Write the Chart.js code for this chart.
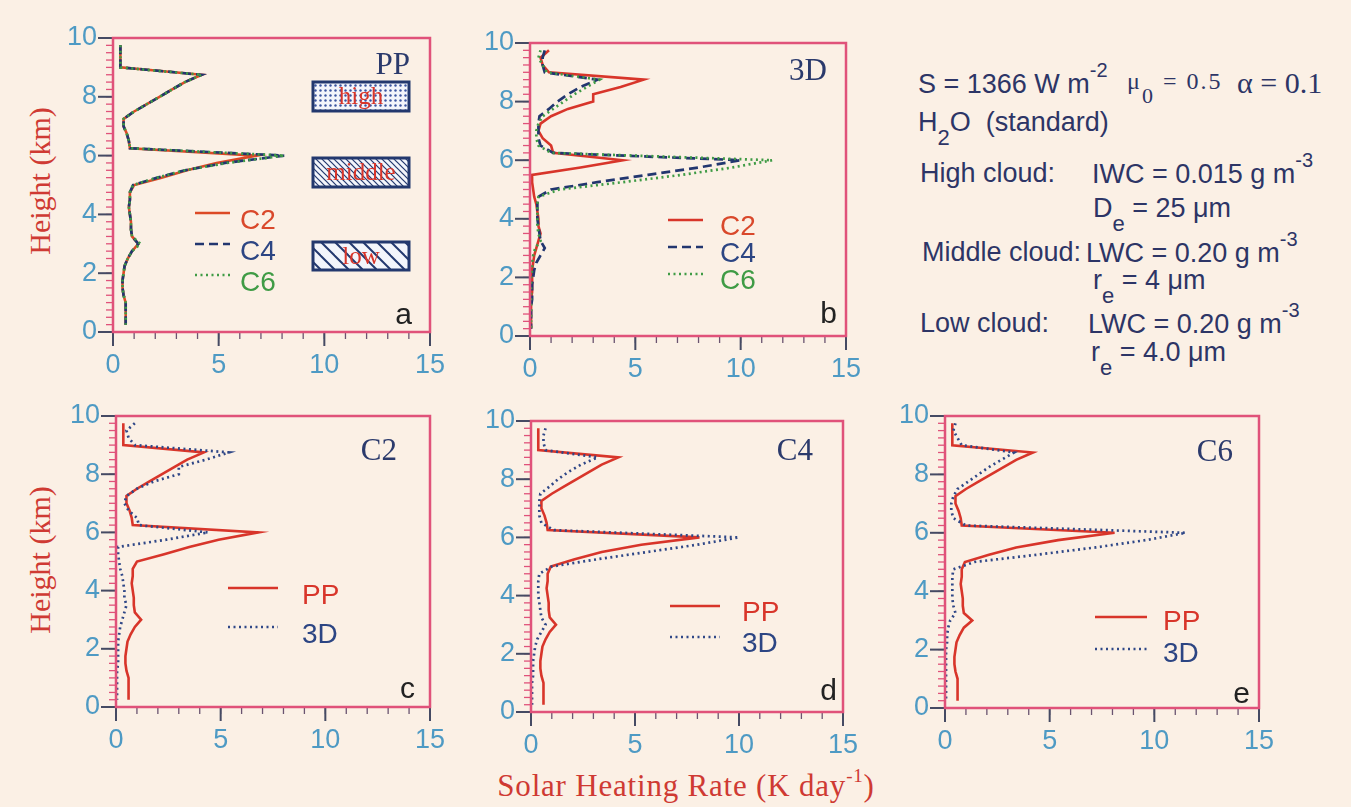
<!DOCTYPE html>
<html>
<head>
<meta charset="utf-8">
<script src="https://cdn.jsdelivr.net/npm/chart.js@4.4.1/dist/chart.umd.min.js"></script>
<style>
  body { margin:0; background:#fbf0e5; width:1351px; height:807px; overflow:hidden; position:relative; }
  canvas { position:absolute; }
  .txt { position:absolute; white-space:nowrap; color:#2d3566; font-family:'Liberation Sans', Arial, sans-serif; font-size:27px; line-height:27px; }
  .txt.serif { font-family:'Liberation Serif', 'Times New Roman', serif; }
  .txt sup { font-size:20px; vertical-align:16px; line-height:0; }
  .txt sub { font-size:22px; vertical-align:-14px; line-height:0; }
  .ttl { position:absolute; white-space:nowrap; color:#cf3a33; font-family:'Liberation Serif', 'Times New Roman', serif; }
  .ttl sup { font-size:19px; vertical-align:14px; line-height:0; }
</style>
</head>
<body>
<div class="ttl" style="left:40px;top:181px;font-size:30px;transform:translate(-50%,-50%) rotate(-90deg)">Height (km)</div>
<div class="ttl" style="left:40px;top:560px;font-size:30px;transform:translate(-50%,-50%) rotate(-90deg)">Height (km)</div>
<div class="ttl" style="left:686px;top:768px;font-size:31px;letter-spacing:0.8px;transform:translateX(-50%)">Solar Heating Rate (K day<sup>-1</sup>)</div>

<div class="txt" style="left:918px;top:70px">S = 1366 W m<sup>-2</sup></div>
<div class="txt serif" style="left:1127px;top:68px;font-size:24px;letter-spacing:2px">&mu;<sub>0</sub> = 0.5</div>
<div class="txt serif" style="left:1237px;top:69px;font-size:30px">&alpha; = 0.1</div>
<div class="txt" style="left:918px;top:109px">H<sub>2</sub>O&nbsp; (standard)</div>
<div class="txt" style="left:920px;top:160px">High cloud:</div>
<div class="txt" style="left:1092px;top:160px">IWC = 0.015 g m<sup>-3</sup></div>
<div class="txt" style="left:1093px;top:195px">D<sub>e</sub> = 25 &mu;m</div>
<div class="txt" style="left:922px;top:239px">Middle cloud:</div>
<div class="txt" style="left:1086px;top:239px">LWC = 0.20 g m<sup>-3</sup></div>
<div class="txt" style="left:1093px;top:267px">r<sub>e</sub> = 4 &mu;m</div>
<div class="txt" style="left:920px;top:310px">Low cloud:</div>
<div class="txt" style="left:1088px;top:310px">LWC = 0.20 g m<sup>-3</sup></div>
<div class="txt" style="left:1091px;top:339px">r<sub>e</sub> = 4.0 &mu;m</div>

<script>
// heights of the model layers (km), top to bottom
const heights = [9.75, 9.5, 9.25, 9.0, 8.75, 8.5, 8.25, 8.0, 7.75, 7.5, 7.25, 7.0, 6.75, 6.5, 6.25, 6.0,
  5.75, 5.5, 5.25, 5.0, 4.75, 4.5, 4.25, 4.0, 3.75, 3.5, 3.25, 3.0, 2.75, 2.5, 2.25, 2.0,
  1.75, 1.5, 1.25, 1.0, 0.75, 0.5, 0.25];

// plane-parallel heating rates (K/day)
const ppC2 = [0.35, 0.35, 0.35, 0.35, 4.2, 3.4, 2.8, 2.2, 1.6, 1.0, 0.5, 0.5, 0.65, 0.75, 0.8, 6.8,
  4.9, 3.5, 2.3, 1.0, 0.8, 0.8, 0.75, 0.8, 0.85, 0.85, 0.9, 1.2, 0.9, 0.7, 0.55, 0.5,
  0.45, 0.45, 0.5, 0.6, 0.6, 0.6, 0.6];
const ppC4 = [0.35, 0.35, 0.35, 0.35, 4.2, 3.4, 2.8, 2.2, 1.6, 1.0, 0.5, 0.5, 0.65, 0.75, 0.8, 8.1,
  5.3, 3.4, 2.1, 0.95, 0.8, 0.8, 0.75, 0.8, 0.85, 0.85, 0.9, 1.2, 0.9, 0.7, 0.55, 0.5,
  0.45, 0.45, 0.5, 0.6, 0.6, 0.6, 0.6];
const ppC6 = [0.35, 0.35, 0.35, 0.35, 4.2, 3.4, 2.8, 2.2, 1.6, 1.0, 0.5, 0.5, 0.65, 0.75, 0.8, 8.1,
  5.4, 3.4, 2.1, 0.95, 0.8, 0.8, 0.75, 0.8, 0.85, 0.85, 0.9, 1.3, 0.9, 0.7, 0.55, 0.5,
  0.45, 0.45, 0.5, 0.6, 0.6, 0.6, 0.6];

// 3D heating rates (K/day)
const d3C2 = [0.9, 0.5, 0.6, 0.9, 5.4, 4.3, 3.0, 3.0, 1.8, 1.0, 0.5, 0.4, 0.6, 1.0, 1.1, 4.4,
  2.4, 0.1, 0.1, 0.15, 0.2, 0.3, 0.35, 0.4, 0.4, 0.5, 0.4, 0.3, 0.2, 0.15, 0.1, 0.1,
  0.1, 0.1, 0.05, 0.05, 0.05, 0.05, 0.05];
const d3C4 = [0.7, 0.6, 0.6, 0.7, 3.2, 2.4, 1.8, 1.3, 0.9, 0.45, 0.4, 0.4, 0.4, 0.5, 1.1, 10.0,
  8.0, 5.6, 3.2, 1.0, 0.4, 0.35, 0.35, 0.35, 0.4, 0.45, 0.5, 0.7, 0.5, 0.3, 0.2, 0.15,
  0.1, 0.1, 0.1, 0.05, 0.05, 0.05, 0.05];
const d3C6 = [0.5, 0.4, 0.6, 0.8, 3.3, 2.7, 2.1, 1.6, 1.1, 0.6, 0.4, 0.3, 0.3, 0.4, 1.0, 11.5,
  9.6, 7.2, 4.4, 1.4, 0.4, 0.35, 0.35, 0.35, 0.35, 0.4, 0.5, 0.25, 0.15, 0.1, 0.1, 0.05,
  0.05, 0.05, 0.05, 0.05, 0.05, 0.05, 0.05];

const xTicks = [0, 5, 10, 15];
const yTicks = [0, 2, 4, 6, 8, 10];

const PINK = '#e0527a', TICKTXT = '#4e9ac4', DARK = '#454a63';
const RED = '#d8352a', ORANGE = '#dc4a26', NAVY = '#22366f', NAVYTXT = '#2c4583', GREEN = '#3f9b45';
const STYLES = { solid: [], dash: [9, 5], dot: [2, 3.5] };

function pts(vals) {
  return vals.map((v, i) => ({ x: v, y: heights[i] }));
}

const panels = [
  { area: [113, 38, 430, 332], title: 'PP', letter: 'a', boxes: true,
    sets: [['C2', ppC2, ORANGE, 'solid', '#d9482b'], ['C4', ppC4, NAVY, 'dash', NAVYTXT], ['C6', ppC6, GREEN, 'dot', GREEN]],
    legend: { x1: 82, x2: 117, tx: 127, rows: [175, 206, 237], dy: 8 }, tpos: [20, 28], lpos: [18, 16] },
  { area: [530, 43, 846, 336], title: '3D', letter: 'b',
    sets: [['C2', d3C2, RED, 'solid', '#d9482b'], ['C4', d3C4, NAVY, 'dash', NAVYTXT], ['C6', d3C6, GREEN, 'dot', GREEN]],
    legend: { x1: 138, x2: 173, tx: 190, rows: [177, 204, 231], dy: 7 }, tpos: [19, 29], lpos: [9, 21] },
  { area: [116, 416, 430, 707], title: 'C2', letter: 'c',
    sets: [['PP', ppC2, RED, 'solid', RED], ['3D', d3C2, '#2f4787', 'dot', NAVYTXT]],
    legend: { x1: 112, x2: 162, tx: 186, rows: [172, 211], dy: 8 }, tpos: [33, 36], lpos: [15, 17] },
  { area: [531, 421, 843, 712], title: 'C4', letter: 'd',
    sets: [['PP', ppC4, RED, 'solid', RED], ['3D', d3C4, '#2f4787', 'dot', NAVYTXT]],
    legend: { x1: 139, x2: 189, tx: 211, rows: [185, 216], dy: 7 }, tpos: [30, 31], lpos: [6, 20] },
  { area: [945, 416, 1259, 708], title: 'C6', letter: 'e',
    sets: [['PP', ppC6, RED, 'solid', RED], ['3D', d3C6, '#2f4787', 'dot', NAVYTXT]],
    legend: { x1: 150, x2: 202, tx: 218, rows: [201, 233], dy: 5 }, tpos: [26, 37], lpos: [9, 13] }
];

function seg(ctx, x1, y1, x2, y2) {
  ctx.beginPath(); ctx.moveTo(x1, y1); ctx.lineTo(x2, y2); ctx.stroke();
}

function makePattern(kind) {
  const c = document.createElement('canvas');
  const n = kind === 'dots' ? 5 : (kind === 'fine' ? 6 : 14);
  c.width = n; c.height = n;
  const g = c.getContext('2d');
  g.fillStyle = '#f3f5fb'; g.fillRect(0, 0, n, n);
  g.fillStyle = '#3b55a0'; g.strokeStyle = '#23386e';
  if (kind === 'dots') {
    g.beginPath(); g.arc(2.5, 2.5, 1.2, 0, Math.PI * 2); g.fill();
  } else {
    g.lineWidth = kind === 'fine' ? 1.2 : 2;
    seg(g, -1, -1, n + 1, n + 1);
    seg(g, -1 - n, -1, 1, n + 1);
    seg(g, n - 1, -1, 2 * n + 1, n + 1);
  }
  return c;
}

// axis frame, minor ticks, in-plot legend, panel labels
const decor = {
  id: 'decor',
  afterDraw(chart, args, o) {
    const { ctx, chartArea: ca, scales: { x, y } } = chart;
    const p = o.panel;
    ctx.save();
    ctx.setLineDash([]);
    ctx.strokeStyle = PINK; ctx.lineWidth = 1.3;
    for (let h = 0; h <= 10.001; h += 0.25) {
      const py = y.getPixelForValue(h);
      seg(ctx, ca.left - 7, py, ca.left, py);
    }
    ctx.strokeStyle = '#6a5470'; ctx.lineWidth = 1.3;
    for (let v = 0; v <= 15; v++) {
      const px = x.getPixelForValue(v);
      seg(ctx, px, ca.bottom, px, ca.bottom + 7);
    }
    ctx.strokeStyle = DARK; ctx.lineWidth = 2;
    yTicks.forEach(h => { const py = y.getPixelForValue(h); seg(ctx, ca.left - 15, py, ca.left, py); });
    xTicks.forEach(v => { const px = x.getPixelForValue(v); seg(ctx, px, ca.bottom, px, ca.bottom + 14); });
    ctx.strokeStyle = PINK; ctx.lineWidth = 2.5;
    ctx.strokeRect(ca.left, ca.top, ca.right - ca.left, ca.bottom - ca.top);

    // legend from the datasets
    const lg = p.legend;
    chart.data.datasets.forEach((ds, i) => {
      const ly = ca.top + lg.rows[i];
      ctx.strokeStyle = ds.borderColor; ctx.lineWidth = ds.borderWidth;
      ctx.setLineDash(ds.borderDash);
      seg(ctx, ca.left + lg.x1, ly, ca.left + lg.x2, ly);
      ctx.setLineDash([]);
      ctx.fillStyle = ds.textColor;
      ctx.font = '28px "Liberation Sans", Arial, sans-serif';
      ctx.textAlign = 'left'; ctx.textBaseline = 'middle';
      ctx.fillText(ds.label, ca.left + lg.tx, ly + lg.dy);
    });

    ctx.fillStyle = '#2b3a6c';
    ctx.font = '31px "Liberation Serif", "Times New Roman", serif';
    ctx.textAlign = 'right'; ctx.textBaseline = 'middle';
    ctx.fillText(p.title, ca.right - p.tpos[0], ca.top + p.tpos[1]);
    ctx.fillStyle = '#222';
    ctx.font = '30px "Liberation Sans", Arial, sans-serif';
    ctx.fillText(p.letter, ca.right - p.lpos[0], ca.bottom - p.lpos[1]);

    if (p.boxes) {
      const boxes = [['high', 'dots', 44, 73], ['middle', 'fine', 120, 149], ['low', 'wide', 204, 232]];
      boxes.forEach(([name, kind, t, b]) => {
        const bx = ca.left + 200, bw = 96;
        ctx.fillStyle = ctx.createPattern(makePattern(kind), 'repeat');
        ctx.fillRect(bx, ca.top + t, bw, b - t);
        ctx.strokeStyle = '#23386e'; ctx.lineWidth = 3;
        ctx.strokeRect(bx, ca.top + t, bw, b - t);
        ctx.fillStyle = '#d8352a';
        ctx.font = '25px "Liberation Serif", "Times New Roman", serif';
        ctx.textAlign = 'center'; ctx.textBaseline = 'middle';
        ctx.fillText(name, bx + bw / 2, ca.top + (t + b) / 2 + 1);
      });
    }
    ctx.restore();
  }
};

panels.forEach(p => {
  const [l, t, r, b] = p.area;
  const cv = document.createElement('canvas');
  cv.width = r - l + 120;
  cv.height = b - t + 70;
  cv.style.left = (l - 100) + 'px';
  cv.style.top = (t - 20) + 'px';
  document.body.appendChild(cv);

  const n = p.sets.length;
  const datasets = p.sets.map(([label, vals, color, style, textColor], i) => ({
    label: label,
    data: pts(vals),
    showLine: true,
    borderColor: color,
    borderWidth: style === 'solid' ? 2.6 : 2.7,
    borderDash: STYLES[style],
    textColor: textColor,
    pointRadius: 0,
    order: n - i
  }));

  new Chart(cv, {
    type: 'scatter',
    data: { datasets: datasets },
    options: {
      animation: false,
      responsive: false,
      layout: { padding: { left: 0, top: 20, right: 20, bottom: 0 } },
      plugins: { legend: { display: false }, tooltip: { enabled: false }, decor: { panel: p } },
      scales: {
        x: {
          type: 'linear', min: 0, max: 15,
          afterBuildTicks: s => { s.ticks = xTicks.map(v => ({ value: v })); },
          afterFit: s => { s.height = 50; s.paddingLeft = 0; s.paddingRight = 0; },
          grid: { display: false, drawTicks: false },
          border: { display: false },
          ticks: { color: TICKTXT, font: { family: 'Liberation Sans', size: 27 }, padding: 17, maxRotation: 0, autoSkip: false }
        },
        y: {
          type: 'linear', min: 0, max: 10,
          afterBuildTicks: s => { s.ticks = yTicks.map(v => ({ value: v })); },
          afterFit: s => { s.width = 100; s.paddingTop = 0; s.paddingBottom = 0; },
          grid: { display: false, drawTicks: false },
          border: { display: false },
          ticks: { color: TICKTXT, font: { family: 'Liberation Sans', size: 27 }, padding: 16, autoSkip: false }
        }
      }
    },
    plugins: [decor]
  });
});
</script>
</body>
</html>
